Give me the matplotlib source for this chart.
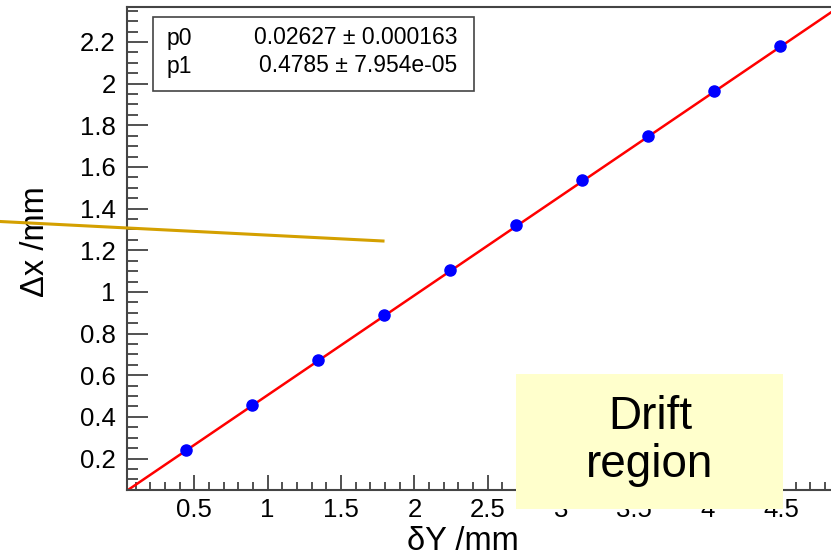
import matplotlib
matplotlib.use("Agg")
import matplotlib.pyplot as plt
import numpy as np
from matplotlib.ticker import MultipleLocator
from matplotlib.patches import Rectangle
from matplotlib.lines import Line2D

# data
dY = [0.445, 0.895, 1.345, 1.795, 2.245, 2.695, 3.145, 3.595, 4.045, 4.495]
dx = [0.243, 0.459, 0.674, 0.890, 1.106, 1.320, 1.535, 1.751, 1.965, 2.180]
p0, p0_err = 0.02627, 0.000163
p1, p1_err = 0.4785, 7.954e-05
x_label = "δY /mm"
y_label = "Δx /mm"
note = "Drift\nregion"

W, H = 831, 558
plt.rcParams['font.family'] = ['Liberation Sans', 'DejaVu Sans']
fig = plt.figure(figsize=(W / 100, H / 100), dpi=100)

def fx(px):
    return px / W

def fy(py):
    return 1 - py / H

xmin, xmax = 0.039, 4.9
ymin, ymax = 0.049, 2.368
left_px, right_px = 126.7, 126.7 + (xmax - xmin) * 146.7
top_px, bot_px = 7, 490
ax = fig.add_axes([fx(left_px), fy(bot_px), (right_px - left_px) / W, (bot_px - top_px) / H])
ax.set_xlim(xmin, xmax)
ax.set_ylim(ymin, ymax)

xs = np.linspace(xmin, xmax, 200)
ax.plot(xs, p0 + p1 * xs, color='#ff0000', lw=1.8, zorder=2)
ax.plot(dY, dx, 'o', color='#0000ff', ms=8, zorder=3)

ax.xaxis.set_major_locator(MultipleLocator(0.5))
ax.xaxis.set_minor_locator(MultipleLocator(0.1))
ax.yaxis.set_major_locator(MultipleLocator(0.2))
ax.yaxis.set_minor_locator(MultipleLocator(0.05))
ax.xaxis.set_major_formatter(plt.FuncFormatter(lambda v, p: f"{v:g}"))
ax.yaxis.set_major_formatter(plt.FuncFormatter(lambda v, p: f"{v:g}"))
ax.tick_params(which='both', direction='in', top=False, right=False, colors='#333333',
               labelcolor='black', labelsize=18.5, width=1.2)
ax.tick_params(axis='y', which='major', length=15, pad=8)
ax.tick_params(axis='y', which='minor', length=8)
ax.tick_params(axis='x', which='major', length=11, pad=6)
ax.tick_params(axis='x', which='minor', length=6)
for s in ax.spines.values():
    s.set_color('#444444')
    s.set_linewidth(1.5)

# stats box
sb = Rectangle((fx(153), fy(91)), (474 - 153) / W, (91 - 17) / H, transform=fig.transFigure,
               facecolor='white', edgecolor='#444444', lw=1.2, zorder=5)
fig.add_artist(sb)
fs = 16.5
fig.text(fx(167), fy(38), "p0", fontsize=fs, va='center', ha='left', zorder=6)
fig.text(fx(167), fy(66), "p1", fontsize=fs, va='center', ha='left', zorder=6)
fig.text(fx(457), fy(38), f"{p0:.5f} ± {p0_err:.6f}", fontsize=fs, va='center', ha='right', zorder=6)
fig.text(fx(457), fy(66), f"{p1:.4f} ± {p1_err:.3e}", fontsize=fs,
         va='center', ha='right', zorder=6)

# axis labels
fig.text(fx(463), fy(541), x_label, fontsize=23.5, ha='center', va='center')
fig.text(fx(36), fy(242), y_label, fontsize=23.5, ha='center', va='center', rotation=90)

# overlay line
fig.add_artist(Line2D([fx(0), fx(383)], [fy(221.5), fy(241)], transform=fig.transFigure,
                      color='#d4a000', lw=2.2, zorder=7))

# yellow note box
nb = Rectangle((fx(516), fy(509)), (783 - 516) / W, (509 - 374) / H, transform=fig.transFigure,
               facecolor='#ffffcc', edgecolor='none', zorder=8)
fig.add_artist(nb)
fig.text(fx(650), fy(441), note, fontsize=33, ha='center', va='center', linespacing=1.12, zorder=9)

fig.savefig("out.png", dpi=100)
